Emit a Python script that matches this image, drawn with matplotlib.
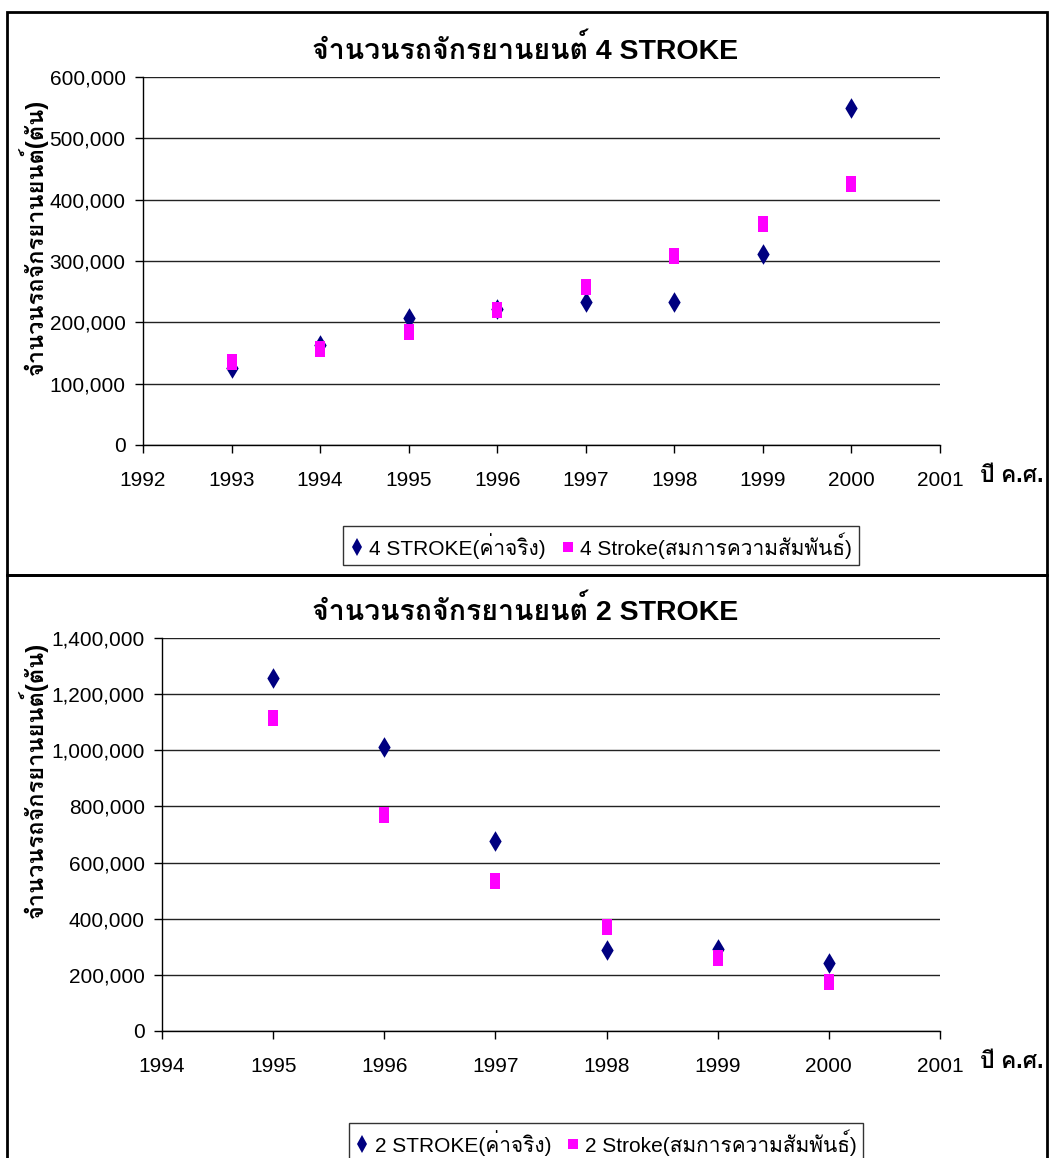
import matplotlib
matplotlib.use("Agg")
import matplotlib.pyplot as plt
from matplotlib import font_manager as fm
from matplotlib.ft2font import FT2Font
from matplotlib.path import Path
from matplotlib.ticker import FuncFormatter, MultipleLocator
import matplotlib.patches as mpatches
import matplotlib.lines as mlines

# ---------------- data ----------------
years_4 = [1993, 1994, 1995, 1996, 1997, 1998, 1999, 2000]
actual_4 = [126000, 163000, 207000, 222000, 233000, 233000, 312000, 550000]
model_4 = [135000, 157000, 184000, 220000, 258000, 308000, 361000, 426000]

years_2 = [1995, 1996, 1997, 1998, 1999, 2000]
actual_2 = [1256000, 1013000, 678000, 289000, 292000, 241000]
model_2 = [1114000, 771000, 534000, 369000, 259000, 175000]

title_4 = "จำนวนรถจักรยานยนต์ 4 STROKE"
title_2 = "จำนวนรถจักรยานยนต์ 2 STROKE"
ylabel = "จำนวนรถจักรยานยนต์(ตัน)"
xlabel = "ปี ค.ศ."
legend_4 = ["4 STROKE(ค่าจริง)", "4 Stroke(สมการความสัมพันธ์)"]
legend_2 = ["2 STROKE(ค่าจริง)", "2 Stroke(สมการความสัมพันธ์)"]

# ---------------- fonts ----------------
thai_font = None
for f in fm.fontManager.ttflist:
    try:
        cmap = FT2Font(f.fname).get_charmap()
        if 0x0E08 in cmap and 0x0E33 in cmap and 0x0E22 in cmap:
            thai_font = f.name
            break
    except Exception:
        pass
fams = ["Liberation Sans"]
if thai_font:
    fams.append(thai_font)
fams.append("DejaVu Sans")
plt.rcParams["font.family"] = fams

NAVY = "#000080"
MAGENTA = "#FF00FF"
rect_marker = Path([(-0.33, -0.5), (0.33, -0.5), (0.33, 0.5), (-0.33, 0.5), (-0.33, -0.5)],
                   [Path.MOVETO, Path.LINETO, Path.LINETO, Path.LINETO, Path.CLOSEPOLY])

W, H = 1053, 1158
fig = plt.figure(figsize=(W / 100, H / 100), dpi=100)

def fx(px):
    return px / W

def fy(py):
    return 1 - py / H

fmt = FuncFormatter(lambda v, p: f"{int(v):,}")

def make_panel(rect, years, actual, model, xlim, ylim, ystep, title, title_y, ylab_y, xlab_y, leg_labels, leg_anchor):
    ax = fig.add_axes(rect)
    ax.scatter(years, actual, marker="d", s=110, color=NAVY, zorder=3, linewidths=0)
    ax.scatter(years, model, marker=rect_marker, s=120, color=MAGENTA, zorder=4, linewidths=0)
    ax.set_xlim(*xlim)
    ax.set_ylim(*ylim)
    ax.xaxis.set_major_locator(MultipleLocator(1))
    ax.yaxis.set_major_locator(MultipleLocator(ystep))
    ax.yaxis.set_major_formatter(fmt)
    ax.xaxis.set_major_formatter(FuncFormatter(lambda v, p: f"{int(round(v))}"))
    for s in ("top", "right"):
        ax.spines[s].set_visible(False)
    for s in ("left", "bottom"):
        ax.spines[s].set_color("black")
        ax.spines[s].set_linewidth(1.0)
    ax.grid(axis="y", color="#222222", linewidth=1.0)
    ax.set_axisbelow(True)
    ax.tick_params(axis="both", direction="out", length=5.5, width=1, color="black",
                   labelsize=15)
    ax.tick_params(axis="y", pad=7)
    ax.tick_params(axis="x", pad=13)
    fig.text(fx(525), fy(title_y), title, ha="center", va="center", fontsize=20.5, fontweight="bold")
    fig.text(fx(33), fy(ylab_y), ylabel, ha="center", va="center", rotation=90,
             fontsize=17, fontweight="bold")
    fig.text(fx(1012), fy(xlab_y), xlabel, ha="center", va="center", fontsize=16.5, fontweight="bold")
    h1 = mlines.Line2D([], [], linestyle="none", marker="d", markersize=9, color=NAVY, markeredgewidth=0)
    h2 = mlines.Line2D([], [], linestyle="none", marker="s", markersize=7.5, color=MAGENTA, markeredgewidth=0)
    leg = fig.legend([h1, h2], leg_labels, loc="upper center", bbox_to_anchor=leg_anchor,
                     bbox_transform=fig.transFigure, ncol=2, frameon=True, fancybox=False,
                     edgecolor="black", fontsize=15, handlelength=0.7, handletextpad=0.25,
                     columnspacing=0.7, borderpad=0.3, borderaxespad=0)
    leg.get_frame().set_linewidth(1.0)
    return ax

# top panel: axes from x 143..940, y 77..445
make_panel([fx(143), fy(445), fx(940) - fx(143), fy(77) - fy(445)],
           years_4, actual_4, model_4, (1992, 2001), (0, 600000), 100000,
           title_4, 50, 237, 476, legend_4, (fx(601), fy(526)))

# bottom panel: axes from x 162..940, y 638..1031
make_panel([fx(162), fy(1031), fx(940) - fx(162), fy(638) - fy(1031)],
           years_2, actual_2, model_2, (1994, 2001), (0, 1400000), 200000,
           title_2, 611, 780, 1062, legend_2, (fx(606), fy(1123)))

# panel borders
fig.add_artist(mpatches.Rectangle((fx(7), fy(575)), fx(1047) - fx(7), fy(12) - fy(575),
                                  transform=fig.transFigure, fill=False, edgecolor="black", linewidth=2))
fig.add_artist(mpatches.Rectangle((fx(7), fy(1170)), fx(1047) - fx(7), fy(575) - fy(1170),
                                  transform=fig.transFigure, fill=False, edgecolor="black", linewidth=2,
                                  clip_on=False))

fig.savefig("out.png", dpi=100)
